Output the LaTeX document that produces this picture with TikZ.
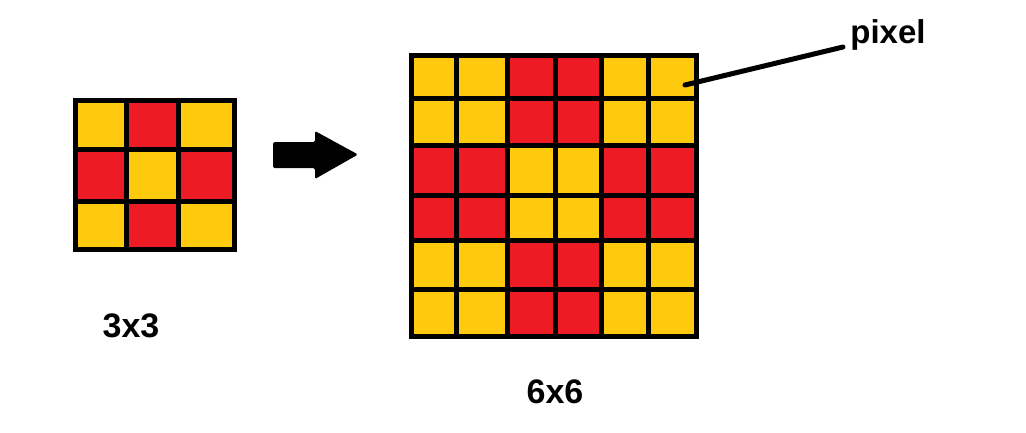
\documentclass[tikz,border=0pt]{standalone}
\usepackage{fontspec}
\setmainfont{Liberation Sans}
\definecolor{pyel}{RGB}{255,201,14}
\definecolor{pred}{RGB}{237,28,36}
\begin{document}
\begin{tikzpicture}[x=1pt,y=-1pt,
  gridline/.style={line width=5pt,black},
  lbl/.style={font=\bfseries\fontsize{34}{40}\selectfont,inner sep=0pt,anchor=base},
  pointer/.style={line width=5pt,line cap=round}]
\useasboundingbox (0,0) rectangle (1026,432);
% ---- small 3x3 grid ----
\fill[pyel] (75.5,100.5) rectangle (234.5,249.5);
\fill[pred] (126,100.5) rectangle (178,149);
\fill[pred] (75.5,149) rectangle (126,201);
\fill[pred] (178,149) rectangle (234.5,201);
\fill[pred] (126,201) rectangle (178,249.5);
\foreach \x in {126,178} \draw[gridline] (\x,100.5) -- (\x,249.5);
\foreach \y in {149,201} \draw[gridline] (75.5,\y) -- (234.5,\y);
\draw[gridline] (75.5,100.5) rectangle (234.5,249.5);
% ---- arrow ----
\fill[rounded corners=1.5pt] (273,142) -- (315,142) -- (315,131) -- (358,154.5) -- (315,179) -- (315,168) -- (273,168) -- cycle;
% ---- big 6x6 grid ----
\fill[pyel] (411.5,55.5) rectangle (696.5,336.5);
\fill[pred] (507,55.5) rectangle (601,145);
\fill[pred] (507,240) rectangle (601,336.5);
\fill[pred] (411.5,145) rectangle (507,240);
\fill[pred] (601,145) rectangle (696.5,240);
\foreach \x in {456,507,555,601,648} \draw[gridline] (\x,55.5) -- (\x,336.5);
\foreach \y in {98,145,195,240,289} \draw[gridline] (411.5,\y) -- (696.5,\y);
\draw[gridline] (411.5,55.5) rectangle (696.5,336.5);
% ---- labels ----
\node[lbl] (small) at (131,337) {3x3};
\node[lbl] (big) at (555,403) {6x6};
\node[lbl,font=\bfseries\fontsize{33}{40}\selectfont] (pix) at (888,43) {pixel};
\coordinate (cell) at (685,85);
\coordinate (pend) at (843,47);
\draw[pointer] (cell) -- (pend);
\end{tikzpicture}
\end{document}
